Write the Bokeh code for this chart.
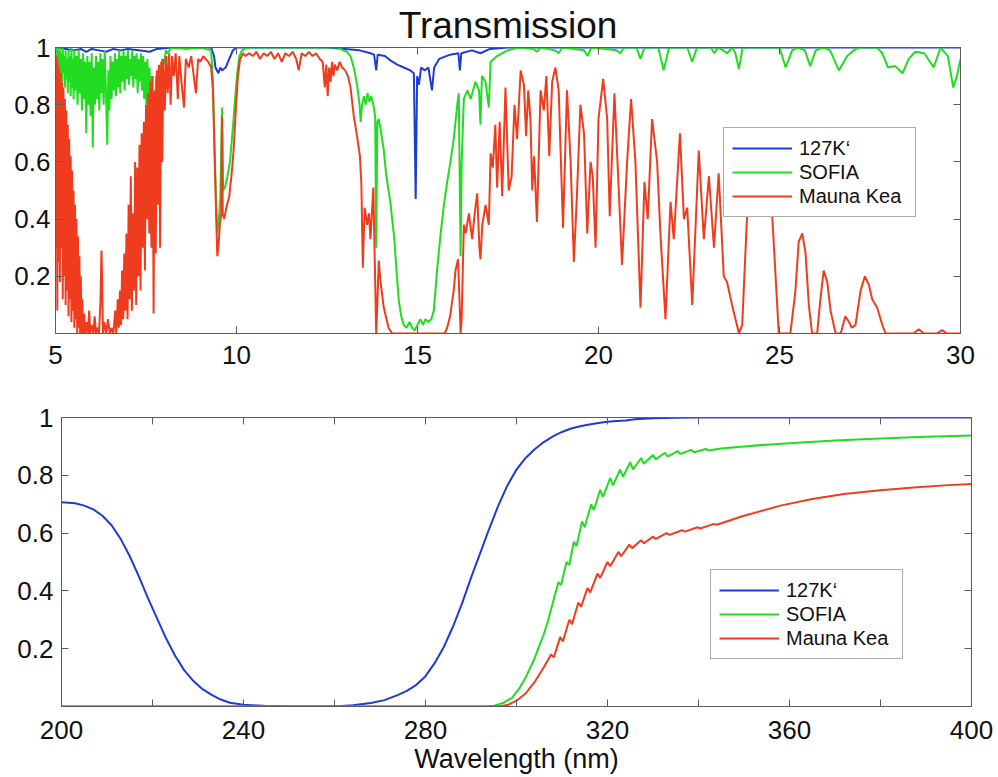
from bokeh.plotting import figure
from bokeh.models import (Range1d, FixedTicker, LinearAxis, CustomJSTickFormatter,
                          Legend, LegendItem)
from bokeh.layouts import column
from bokeh.embed import file_html
from bokeh.resources import INLINE

# ---------------- data ----------------
series_names = ["127K\u2018", "SOFIA", "Mauna Kea"]
ir_xticks = [5, 10, 15, 20, 25, 30]
uv_xticks_major = [200, 240, 280, 320, 360, 400]
uv_xticks_minor = [220, 260, 300, 340, 380]
y_ticks = [0.2, 0.4, 0.6, 0.8, 1.0]

# top panel (wavelength in micron, transmission)
ir_127k = [(5.00,1.00),(5.30,0.995),(5.50,0.99),(5.70,0.995),(5.85,0.985),(6.00,0.995),(6.20,0.99),
    (6.40,0.985),(6.60,0.995),(6.80,0.99),(7.00,0.995),(7.30,0.99),(7.60,0.985),(7.80,0.995),(8.20,1.00),
    (9.30,1.00),(9.38,0.97),(9.42,0.93),(9.50,0.91),(9.55,0.93),(9.60,0.92),(9.70,0.93),(9.80,0.96),
    (9.90,0.99),(10.00,1.00),(12.50,1.00),(13.00,0.995),(13.40,0.99),(13.70,0.98),(13.80,0.975),
    (13.86,0.92),(13.90,0.975),(14.10,0.97),(14.25,0.955),(14.44,0.94),(14.62,0.93),(14.80,0.92),
    (14.90,0.91),(14.95,0.47),(14.99,0.90),(15.04,0.87),(15.10,0.93),(15.20,0.92),(15.30,0.93),
    (15.40,0.85),(15.46,0.93),(15.60,0.96),(15.90,0.975),(16.13,0.98),(16.17,0.92),(16.21,0.98),
    (16.50,0.99),(16.74,0.98),(17.00,0.995),(17.50,1.00),(30.00,1.00)]

ir_sofia = [(5.00,1.00),(5.02,0.95),(5.04,1.00),(5.06,0.93),(5.08,0.99),(5.10,0.92),(5.12,1.00),
    (5.14,0.90),(5.16,0.98),(5.18,0.88),(5.20,1.00),(5.22,0.91),(5.24,0.97),(5.26,0.86),(5.28,0.99),
    (5.30,0.89),(5.32,0.96),(5.34,0.84),(5.36,0.99),(5.38,0.88),(5.40,0.97),(5.42,0.83),(5.44,1.00),
    (5.46,0.86),(5.48,0.96),(5.50,0.82),(5.52,0.99),(5.55,0.85),(5.58,0.97),(5.61,0.80),(5.64,0.99),
    (5.67,0.84),(5.70,0.96),(5.73,0.78),(5.76,0.98),(5.79,0.82),(5.82,0.95),(5.85,0.70),(5.88,0.97),
    (5.91,0.80),(5.94,0.95),(5.97,0.76),(6.00,0.98),(6.03,0.65),(6.06,0.93),(6.09,0.80),(6.12,0.97),
    (6.15,0.82),(6.18,0.95),(6.21,0.78),(6.24,0.98),(6.27,0.84),(6.30,0.96),(6.33,0.80),(6.36,0.99),
    (6.40,0.82),(6.43,0.66),(6.46,0.92),(6.49,0.78),(6.52,0.97),(6.55,0.82),(6.58,0.95),(6.61,0.85),
    (6.64,0.98),(6.67,0.83),(6.70,0.96),(6.73,0.86),(6.76,0.99),(6.79,0.84),(6.82,0.97),(6.85,0.88),
    (6.88,0.99),(6.91,0.85),(6.94,0.97),(6.97,0.89),(7.00,0.99),(7.03,0.87),(7.06,0.96),(7.09,0.90),
    (7.12,0.99),(7.15,0.86),(7.18,0.97),(7.21,0.89),(7.24,0.98),(7.27,0.84),(7.30,0.96),(7.33,0.88),
    (7.36,0.98),(7.39,0.85),(7.42,0.97),(7.45,0.82),(7.48,0.95),(7.51,0.80),(7.54,0.96),(7.57,0.78),
    (7.60,0.93),(7.63,0.72),(7.66,0.90),(7.69,0.50),(7.72,0.84),(7.75,0.80),(7.78,0.90),(7.81,0.84),
    (7.85,0.93),(7.90,0.88),(7.95,0.96),(8.00,0.94),(8.05,0.99),(8.10,0.98),(8.20,1.00),(8.60,0.995),
    (9.00,1.00),(9.30,0.99),(9.35,0.88),(9.40,0.62),(9.44,0.45),(9.47,0.35),(9.51,0.40),(9.55,0.46),
    (9.60,0.79),(9.63,0.50),(9.68,0.51),(9.75,0.55),(9.82,0.60),(9.90,0.72),(9.96,0.82),(10.02,0.91),
    (10.08,0.97),(10.15,0.99),(10.30,1.00),(12.80,1.00),(12.95,0.99),(13.05,0.985),(13.15,0.97),
    (13.24,0.93),(13.33,0.87),(13.40,0.80),(13.43,0.74),(13.47,0.80),(13.52,0.83),(13.57,0.80),
    (13.62,0.84),(13.67,0.81),(13.72,0.83),(13.78,0.80),(13.83,0.76),(13.86,0.30),(13.89,0.74),
    (13.93,0.75),(14.00,0.70),(14.07,0.64),(14.13,0.56),(14.20,0.50),(14.25,0.46),(14.30,0.40),
    (14.36,0.33),(14.42,0.22),(14.48,0.12),(14.55,0.06),(14.62,0.03),(14.70,0.02),(14.78,0.04),
    (14.85,0.02),(14.92,0.01),(15.00,0.03),(15.08,0.05),(15.15,0.03),(15.22,0.05),(15.30,0.04),
    (15.38,0.05),(15.45,0.08),(15.54,0.22),(15.64,0.35),(15.73,0.45),(15.82,0.53),(15.91,0.60),
    (16.00,0.68),(16.10,0.80),(16.14,0.84),(16.17,0.50),(16.19,0.27),(16.22,0.60),(16.28,0.82),
    (16.38,0.85),(16.47,0.82),(16.60,0.88),(16.70,0.85),(16.74,0.73),(16.78,0.90),(16.88,0.88),
    (16.97,0.79),(17.02,0.95),(17.20,0.97),(17.48,0.99),(17.80,1.00),(18.20,0.995),(18.30,0.985),
    (18.40,1.00),(18.80,0.99),(18.90,0.98),(19.00,1.00),(19.60,0.99),(19.70,0.97),(19.80,1.00),
    (20.50,0.99),(20.60,0.98),(20.70,1.00),(21.05,1.00),(21.16,0.96),(21.27,1.00),(21.65,1.00),
    (21.80,0.92),(21.95,1.00),(22.45,1.00),(22.59,0.95),(22.72,1.00),(23.10,1.00),(23.20,0.98),
    (23.30,1.00),(23.45,0.99),(23.55,0.98),(23.70,1.00),(23.78,0.98),(23.88,0.925),(23.98,1.00),
    (25.00,1.00),(25.17,0.93),(25.35,0.99),(25.50,1.00),(25.70,0.99),(25.85,0.935),(26.00,0.99),
    (26.20,1.00),(26.40,0.99),(26.64,0.92),(26.87,0.97),(27.05,0.99),(27.20,1.00),(27.70,1.00),
    (27.84,0.98),(28.00,0.93),(28.20,0.935),(28.40,0.91),(28.57,0.96),(28.75,0.985),(29.00,0.98),
    (29.26,0.93),(29.45,1.00),(29.65,0.97),(29.80,0.86),(29.90,0.90),(30.00,0.96)]

ir_mauna_kea = [(5.00,0.96),(5.02,0.30),(5.03,0.97),(5.05,0.08),(5.06,0.95),(5.08,0.25),(5.10,0.93),
    (5.12,0.18),(5.14,0.91),(5.16,0.30),(5.18,0.88),(5.20,0.12),(5.22,0.86),(5.24,0.20),(5.26,0.82),
    (5.28,0.10),(5.30,0.78),(5.32,0.15),(5.34,0.73),(5.36,0.06),(5.38,0.68),(5.40,0.12),(5.42,0.62),
    (5.44,0.04),(5.46,0.57),(5.48,0.08),(5.50,0.50),(5.52,0.02),(5.54,0.45),(5.56,0.05),(5.58,0.40),
    (5.60,0.00),(5.62,0.34),(5.64,0.02),(5.66,0.27),(5.68,0.00),(5.70,0.20),(5.72,0.00),(5.74,0.12),
    (5.76,0.00),(5.79,0.07),(5.82,0.00),(5.86,0.04),(5.90,0.00),(5.93,0.08),(5.96,0.00),(6.00,0.03),
    (6.05,0.00),(6.08,0.06),(6.12,0.00),(6.16,0.02),(6.20,0.00),(6.24,0.10),(6.27,0.29),(6.29,0.18),
    (6.31,0.00),(6.35,0.04),(6.40,0.00),(6.45,0.05),(6.50,0.00),(6.55,0.02),(6.60,0.00),(6.65,0.08),
    (6.68,0.00),(6.72,0.12),(6.75,0.02),(6.78,0.15),(6.81,0.03),(6.84,0.22),(6.87,0.05),(6.90,0.28),
    (6.93,0.08),(6.96,0.35),(6.99,0.05),(7.02,0.45),(7.05,0.12),(7.08,0.55),(7.11,0.08),(7.14,0.42),
    (7.17,0.15),(7.20,0.60),(7.23,0.10),(7.26,0.58),(7.29,0.20),(7.32,0.66),(7.35,0.15),(7.38,0.70),
    (7.41,0.30),(7.44,0.74),(7.47,0.22),(7.50,0.80),(7.53,0.40),(7.56,0.84),(7.59,0.35),(7.62,0.88),
    (7.65,0.30),(7.68,0.90),(7.71,0.07),(7.74,0.85),(7.77,0.28),(7.80,0.92),(7.83,0.45),(7.86,0.94),
    (7.89,0.30),(7.92,0.95),(7.95,0.60),(7.98,0.96),(8.02,0.78),(8.06,0.97),(8.10,0.84),(8.14,0.98),
    (8.18,0.80),(8.22,0.97),(8.27,0.90),(8.32,0.98),(8.38,0.82),(8.42,0.97),(8.48,0.88),(8.55,0.79),
    (8.60,0.96),(8.68,0.93),(8.75,0.97),(8.82,0.90),(8.88,0.84),(8.94,0.96),(9.00,0.95),(9.08,0.97),
    (9.15,0.96),(9.22,0.95),(9.30,0.93),(9.35,0.85),(9.40,0.60),(9.44,0.40),(9.47,0.27),(9.50,0.30),
    (9.54,0.38),(9.58,0.42),(9.60,0.76),(9.62,0.42),(9.66,0.40),(9.72,0.44),(9.80,0.48),(9.86,0.55),
    (9.92,0.64),(9.98,0.78),(10.04,0.90),(10.10,0.96),(10.18,0.98),(10.25,0.97),(10.35,0.98),
    (10.45,0.97),(10.55,0.985),(10.65,0.96),(10.75,0.98),(10.85,0.97),(10.95,0.985),(11.05,0.96),
    (11.15,0.98),(11.25,0.95),(11.35,0.98),(11.45,0.97),(11.55,0.985),(11.65,0.96),(11.72,0.92),
    (11.80,0.98),(11.90,0.97),(12.00,0.985),(12.10,0.97),(12.20,0.98),(12.30,0.96),(12.38,0.95),
    (12.44,0.86),(12.48,0.94),(12.52,0.83),(12.56,0.93),(12.60,0.88),(12.64,0.95),(12.68,0.90),
    (12.72,0.94),(12.78,0.92),(12.85,0.95),(12.92,0.93),(13.00,0.92),(13.08,0.90),(13.15,0.86),
    (13.24,0.76),(13.33,0.69),(13.41,0.62),(13.45,0.52),(13.49,0.23),(13.54,0.44),(13.61,0.38),
    (13.66,0.42),(13.70,0.33),(13.78,0.51),(13.82,0.25),(13.86,0.00),(13.89,0.10),(13.93,0.255),
    (13.98,0.18),(14.07,0.09),(14.20,0.02),(14.30,0.00),(15.75,0.00),(15.82,0.02),(15.90,0.06),
    (16.00,0.15),(16.05,0.22),(16.12,0.26),(16.16,0.12),(16.19,0.00),(16.22,0.05),(16.28,0.38),
    (16.33,0.35),(16.42,0.42),(16.51,0.33),(16.58,0.42),(16.65,0.49),(16.71,0.30),(16.74,0.26),
    (16.79,0.38),(16.88,0.45),(16.97,0.38),(17.02,0.63),(17.08,0.58),(17.15,0.73),(17.20,0.51),
    (17.27,0.74),(17.34,0.48),(17.43,0.86),(17.52,0.50),(17.60,0.55),(17.68,0.80),(17.75,0.68),
    (17.85,0.92),(17.94,0.87),(18.00,0.69),(18.06,0.85),(18.12,0.75),(18.17,0.50),(18.22,0.62),
    (18.30,0.39),(18.40,0.85),(18.49,0.78),(18.56,0.90),(18.64,0.62),(18.72,0.88),(18.81,0.93),
    (18.90,0.85),(19.02,0.37),(19.13,0.85),(19.23,0.60),(19.32,0.25),(19.41,0.50),(19.50,0.80),
    (19.60,0.70),(19.69,0.35),(19.78,0.60),(19.84,0.55),(19.92,0.30),(20.00,0.75),(20.13,0.89),
    (20.24,0.75),(20.31,0.41),(20.44,0.84),(20.56,0.50),(20.65,0.24),(20.79,0.60),(20.90,0.82),
    (21.02,0.60),(21.16,0.09),(21.27,0.53),(21.36,0.40),(21.48,0.75),(21.62,0.60),(21.71,0.35),
    (21.85,0.05),(21.99,0.46),(22.08,0.33),(22.25,0.70),(22.36,0.40),(22.45,0.44),(22.59,0.10),
    (22.77,0.64),(22.91,0.33),(23.05,0.55),(23.19,0.30),(23.32,0.56),(23.46,0.20),(23.55,0.18),
    (23.69,0.10),(23.88,0.00),(23.97,0.03),(24.10,0.40),(24.30,0.55),(24.50,0.60),(24.70,0.50),
    (24.80,0.41),(24.98,0.00),(25.30,0.00),(25.44,0.15),(25.53,0.32),(25.63,0.35),(25.72,0.28),
    (25.81,0.10),(25.90,0.00),(26.04,0.00),(26.13,0.12),(26.22,0.22),(26.32,0.18),(26.41,0.08),
    (26.55,0.00),(26.69,0.00),(26.82,0.06),(26.92,0.04),(27.00,0.02),(27.10,0.03),(27.24,0.15),
    (27.36,0.20),(27.47,0.17),(27.56,0.12),(27.70,0.09),(27.84,0.03),(27.93,0.00),(28.70,0.00),
    (28.85,0.015),(28.99,0.00),(29.35,0.00),(29.49,0.012),(29.63,0.00),(30.00,0.00)]

# bottom panel (wavelength in nm, transmission)
uv_127k = [(200,0.707),(203,0.703),(205,0.695),(207,0.682),(209,0.66),(211,0.627),(213,0.58),
    (215,0.52),(217,0.45),(219,0.375),(221,0.305),(223,0.235),(225,0.175),(227,0.125),(229,0.088),
    (231,0.06),(233,0.04),(235,0.024),(237,0.013),(240,0.006),(245,0.002),(250,0.0),(260,0.0),
    (264,0.004),(268,0.012),(271,0.022),(274,0.04),(276,0.055),(278,0.075),(280,0.105),(282,0.15),
    (284,0.205),(286,0.275),(288,0.355),(290,0.445),(292,0.53),(294,0.615),(296,0.695),(298,0.765),
    (300,0.82),(302,0.86),(304,0.89),(306,0.915),(308,0.935),(310,0.95),(312,0.962),(314,0.97),
    (316,0.976),(318,0.981),(320,0.985),(322,0.988),(324,0.99),(326,0.994),(330,0.997),(335,0.999),
    (340,1.0),(400,1.0)]

uv_sofia = [(200,0.0),(293,0.0),(295,0.002),(297,0.012),(299,0.03),(300.5,0.06),(302,0.1),
    (303.8,0.16),(305,0.21),(306,0.25),(307,0.3),(308,0.36),(309.2,0.43),(309.8,0.42),(311,0.5),
    (311.6,0.49),(312.6,0.57),(313.2,0.555),(314.4,0.64),(315,0.62),(316.4,0.7),(317,0.68),
    (318.4,0.75),(319,0.725),(320.6,0.79),(321.2,0.765),(322.8,0.82),(323.4,0.795),(325,0.845),
    (325.6,0.82),(327.4,0.86),(328,0.84),(330,0.87),(330.6,0.855),(332.6,0.878),(333.2,0.865),
    (335.4,0.884),(336,0.874),(338.4,0.888),(339,0.88),(341.6,0.891),(342.2,0.886),(345,0.893),
    (350,0.9),(355,0.906),(360,0.911),(370,0.92),(380,0.927),(390,0.933),(400,0.938)]

uv_mauna_kea = [(200,0.0),(296,0.0),(298,0.005),(300,0.02),(302,0.045),(304,0.085),(306,0.136),
    (307.6,0.18),(308.2,0.17),(309.6,0.24),(310.2,0.225),(311.6,0.3),(312.2,0.285),(313.6,0.36),
    (314.2,0.345),(315.6,0.41),(316.2,0.395),(317.8,0.46),(318.4,0.445),(320,0.5),(320.6,0.485),
    (322.4,0.535),(323,0.52),(324.8,0.56),(325.4,0.548),(327.4,0.575),(328,0.565),(330,0.588),
    (330.6,0.58),(333,0.6),(333.6,0.594),(336.4,0.61),(337,0.605),(339.8,0.62),(340.4,0.616),
    (343.4,0.632),(344,0.629),(350,0.66),(358,0.695),(365,0.718),(372,0.735),(380,0.748),
    (388,0.759),(395,0.766),(400,0.77)]

# ---------------- styling ----------------
FONT = "Liberation Sans"
COLORS = ["#1f3cd2", "#22dc22", "#f03c1e"]
AXC = "#5c5c5c"
TICK_FS = "26px"

Y_FMT = """
if (Math.abs(tick - 1) < 1e-6) { return "1"; }
return tick.toFixed(1);
"""

CAN_UNALIGN = "frame_align" in figure.properties()


def style_axis(ax, labels=True, standoff=7):
    ax.axis_line_color = AXC
    ax.axis_line_width = 1
    ax.major_tick_line_color = AXC
    ax.major_tick_in = 7
    ax.major_tick_out = 0
    ax.minor_tick_line_color = AXC
    ax.minor_tick_in = 7
    ax.minor_tick_out = 0
    ax.major_label_text_font = FONT
    ax.axis_label_standoff = 0
    if labels:
        ax.major_label_text_color = "#111111"
        ax.major_label_text_font_size = TICK_FS
        ax.major_label_standoff = standoff
    else:
        ax.major_label_text_color = None
        ax.major_label_text_alpha = 0
        ax.major_label_text_font_size = "1px"
        ax.major_label_standoff = 0


def make_panel(xr, x_ticker_args, series, legend_loc, fw, fh, bl, br, bt, bb,
               title=None, x_standoff=12, y_standoff=5, xlabel=None):
    p = figure(output_backend="svg", toolbar_location=None,
               x_range=Range1d(*xr), y_range=Range1d(0, 1),
               frame_width=fw, frame_height=fh,
               min_border_left=bl, min_border_right=br,
               min_border_top=bt, min_border_bottom=bb,
               title=title)
    if CAN_UNALIGN:
        p.frame_align = False
    p.grid.grid_line_color = None
    p.outline_line_color = AXC
    p.background_fill_color = "white"
    p.border_fill_color = "white"

    bottom_ax = p.below[0]
    left_ax = p.left[0]
    bottom_ax.ticker = FixedTicker(**x_ticker_args)
    left_ax.ticker = FixedTicker(ticks=y_ticks, minor_ticks=[])
    left_ax.formatter = CustomJSTickFormatter(code=Y_FMT)
    style_axis(bottom_ax, True, x_standoff)
    style_axis(left_ax, True, y_standoff)

    top_ax = LinearAxis(ticker=FixedTicker(**x_ticker_args))
    style_axis(top_ax, labels=False)
    p.add_layout(top_ax, "above")
    right_ax = LinearAxis(ticker=FixedTicker(ticks=y_ticks, minor_ticks=[]))
    style_axis(right_ax, labels=False)
    p.add_layout(right_ax, "right")

    if xlabel:
        bottom_ax.axis_label = xlabel
        bottom_ax.axis_label_text_font = FONT
        bottom_ax.axis_label_text_font_size = "27px"
        bottom_ax.axis_label_text_font_style = "normal"
        bottom_ax.axis_label_text_color = "#111111"
        bottom_ax.axis_label_standoff = 2

    if title:
        p.title.text_font = FONT
        p.title.text_font_size = "37px"
        p.title.text_font_style = "normal"
        p.title.text_color = "#111111"
        p.title.align = "center"
        p.title.standoff = 3

    items = []
    for name, pts, col in zip(series_names, series, COLORS):
        xs = [a for a, _ in pts]
        ys = [b for _, b in pts]
        r = p.line(xs, ys, line_color=col, line_width=2)
        items.append(LegendItem(label=name, renderers=[r]))

    leg = Legend(items=items, location=legend_loc)
    leg.label_text_font = FONT
    leg.label_text_font_size = "20px"
    leg.label_text_color = "#111111"
    leg.glyph_width = 60
    leg.glyph_height = 24
    leg.label_height = 24
    leg.label_width = 108
    leg.label_standoff = 7
    leg.spacing = 0
    leg.padding = 8
    leg.margin = 0
    leg.border_line_color = AXC
    leg.border_line_width = 1
    leg.background_fill_color = "white"
    leg.background_fill_alpha = 1.0
    p.add_layout(leg)
    return p


if CAN_UNALIGN:
    top_bl, top_fw, top_leg = 55, 905, (668, 116)
else:
    top_bl, top_fw, top_leg = 61, 899, (662, 116)

p_top = make_panel((5, 30), dict(ticks=ir_xticks, minor_ticks=[]),
                   [ir_127k, ir_sofia, ir_mauna_kea], top_leg,
                   fw=top_fw, fh=286, bl=top_bl, br=36, bt=47, bb=42,
                   title="Transmission", x_standoff=12, y_standoff=5)

p_bot = make_panel((200, 400), dict(ticks=uv_xticks_major, minor_ticks=uv_xticks_minor),
                   [uv_127k, uv_sofia, uv_mauna_kea], (649, 47),
                   fw=910, fh=289, bl=61, br=25, bt=42, bb=70,
                   x_standoff=14, y_standoff=8, xlabel="Wavelength (nm)")

layout = column(p_top, p_bot, spacing=0)

with open("out.html", "w") as f:
    f.write(file_html(layout, INLINE))
